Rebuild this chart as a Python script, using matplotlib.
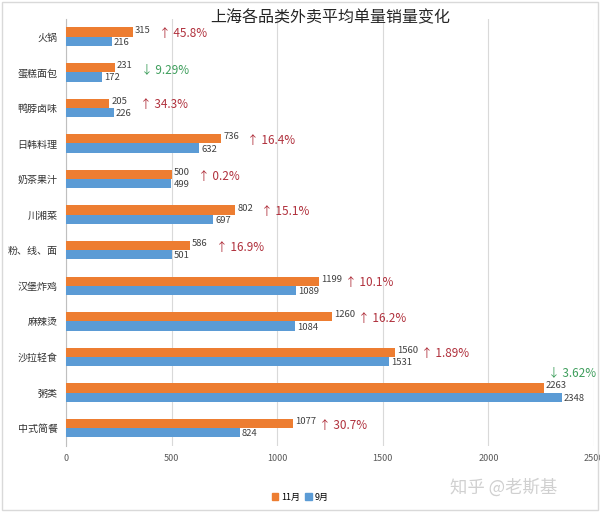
import matplotlib.pyplot as plt
import matplotlib.patches as mpatches
import numpy as np

plt.rcParams['font.family'] = ['Noto Sans CJK SC', 'DejaVu Sans']

categories = ["火锅", "蛋糕面包", "鸭脖卤味", "日韩料理", "奶茶果汁", "川湘菜",
              "粉、线、面", "汉堡炸鸡", "麻辣烫", "沙拉轻食", "粥类", "中式简餐"]
nov = [315, 231, 205, 736, 500, 802, 586, 1199, 1260, 1560, 2263, 1077]
sep = [216, 172, 226, 632, 499, 697, 501, 1089, 1084, 1531, 2348, 824]
change = ["↑ 45.8%", "↓ 9.29%", "↑ 34.3%", "↑ 16.4%", "↑ 0.2%", "↑ 15.1%",
          "↑ 16.9%", "↑ 10.1%", "↑ 16.2%", "↑ 1.89%", "↓ 3.62%", "↑ 30.7%"]
xticks = [0, 500, 1000, 1500, 2000, 2500]

ORANGE = "#ED7D31"
BLUE = "#5B9BD5"
RED = "#B0303C"
GREEN = "#3E9E5C"

fig = plt.figure(figsize=(6, 5.12), dpi=100)
ax = fig.add_axes([0.11, 0.129, 0.88, 0.834])

y = np.arange(len(categories))
h = 0.26
ax.barh(y - h / 2, nov, height=h, color=ORANGE, zorder=3)
ax.barh(y + h / 2, sep, height=h, color=BLUE, zorder=3)

for i in range(len(categories)):
    ax.annotate(str(nov[i]), (nov[i], i - h / 2), xytext=(2, 2), textcoords="offset pixels",
                ha="left", va="center", fontsize=6.8, color="#404040")
    ax.annotate(str(sep[i]), (sep[i], i + h / 2), xytext=(2, -1), textcoords="offset pixels",
                ha="left", va="center", fontsize=6.8, color="#404040")
    col = RED if change[i].startswith("↑") else GREEN
    top = max(nov[i], sep[i])
    if top > 2000:
        ax.annotate(change[i], (nov[i], i - h), xytext=(4, 4), textcoords="offset pixels",
                    ha="left", va="bottom", fontsize=8.5, color=col)
    else:
        ax.annotate(change[i], (top, i), xytext=(26, 3), textcoords="offset pixels",
                    ha="left", va="center", fontsize=8.5, color=col)

ax.set_xlim(0, 2500)
ax.set_ylim(len(categories) - 0.5, -0.5)
ax.set_xticks(xticks)
ax.set_yticks(y)
ax.set_yticklabels(categories, fontsize=7.2, color="#333333")
ax.tick_params(axis="x", labelsize=6.5, colors="#595959", length=0, pad=6)
ax.tick_params(axis="y", length=0, pad=6)
ax.grid(axis="x", color="#D9D9D9", linewidth=0.8, zorder=0)
for s in ["top", "right", "bottom"]:
    ax.spines[s].set_visible(False)
ax.spines["left"].set_color("#BFBFBF")

fig.text(0.55, 0.966, "上海各品类外卖平均单量销量变化", ha="center", va="center",
         fontsize=11.5, color="#262626", fontweight="medium")

handles = [mpatches.Patch(color=ORANGE, label="11月"), mpatches.Patch(color=BLUE, label="9月")]
fig.legend(handles=handles, loc="center", bbox_to_anchor=(0.5, 0.029), ncol=2, frameon=False,
           fontsize=6.5, handlelength=0.7, handleheight=0.7, handletextpad=0.3, columnspacing=0.6)

fig.text(0.84, 0.047, "知乎 @老斯基", ha="center", va="center", fontsize=12.5, color="#D0D0D0")

fig.patches.append(mpatches.Rectangle((0.003, 0.003), 0.994, 0.994, transform=fig.transFigure,
                                      fill=False, edgecolor="#D9D9D9", linewidth=1))

fig.savefig("out.png", dpi=100)
